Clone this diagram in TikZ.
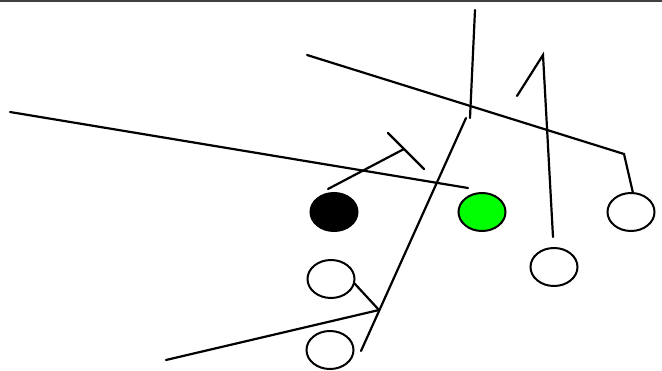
\documentclass[tikz,border=0pt]{standalone}
\usetikzlibrary{shapes.geometric}
\begin{document}
\begin{tikzpicture}[x=1pt,y=-1pt,
  player/.style={ellipse,draw=black,line width=2pt,minimum width=47pt,minimum height=38pt,inner sep=0pt},
  route/.style={line width=2.2pt,line cap=round,line join=miter}]
\useasboundingbox (0,0) rectangle (662,371);
\draw[line width=2pt,black!75] (0,1) -- (662,1);
% players
\node[player,fill=black] (qb) at (334,212) {};
\node[player,fill=green] (c) at (482,212) {};
\node[player,fill=white] (r1) at (631,212) {};
\node[player,fill=white] (r2) at (554,267) {};
\node[player,fill=white] (l1) at (331,279) {};
\node[player,fill=white] (l2) at (330,350) {};
% coordinates
\coordinate (a1) at (10,112);
\coordinate (a2) at (468,188);
\coordinate (b1) at (307,55);
\coordinate (b2) at (624,154);
\coordinate (b3) at (633,193);
\coordinate (v1) at (475,10);
\coordinate (v2) at (470,118);
\coordinate (d1) at (466,118);
\coordinate (d2) at (379,310);
\coordinate (d3) at (361,351);
\coordinate (e1) at (166,360);
\coordinate (f1) at (355,284);
\coordinate (g1) at (328,189);
\coordinate (g2) at (404,149);
\coordinate (t1) at (388,133);
\coordinate (t2) at (424,169);
\coordinate (h1) at (553,237);
\coordinate (h2) at (543,55);
\coordinate (h3) at (517,96);
% routes
\draw[route] (a1) -- (a2);
\draw[route] (b1) -- (b2) -- (b3);
\draw[route] (v1) -- (v2);
\draw[route] (d1) -- (d3);
\draw[route] (e1) -- (d2);
\draw[route] (f1) -- (d2);
\draw[route] (g1) -- (g2);
\draw[route] (t1) -- (t2);
\draw[route] (h1) -- (h2) -- (h3);
\end{tikzpicture}
\end{document}
